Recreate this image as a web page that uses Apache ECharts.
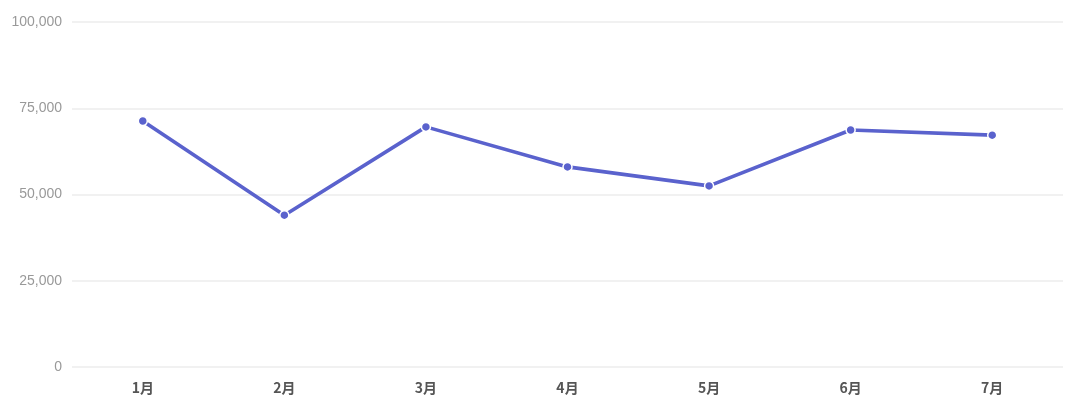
<!DOCTYPE html>
<html>
<head>
<meta charset="utf-8">
<script src="https://cdn.jsdelivr.net/npm/echarts@6/dist/echarts.min.js"></script>
<style>html,body{margin:0;padding:0;background:#fff}#c{width:1080px;height:413px}</style>
</head>
<body>
<div id="c"></div>
<script>
const categories = ['1月','2月','3月','4月','5月','6月','7月'];
const values = [71300, 44000, 69600, 58000, 52500, 68700, 67200];
const yTicks = { min: 0, max: 100000, interval: 25000 };

const chart = echarts.init(document.getElementById('c'), null, { renderer: 'canvas' });
chart.setOption({
  animation: false,
  backgroundColor: '#fff',
  grid: { left: 72, right: 17, top: 22, bottom: 46, containLabel: false },
  xAxis: {
    type: 'category',
    data: categories,
    boundaryGap: true,
    axisLine: { show: false },
    axisTick: { show: false },
    axisLabel: { color: '#555', fontSize: 14, fontWeight: 'bold', margin: 14, fontFamily: 'Noto Sans CJK SC' }
  },
  yAxis: {
    type: 'value',
    min: yTicks.min, max: yTicks.max, interval: yTicks.interval,
    axisLine: { show: false },
    axisTick: { show: false },
    axisLabel: {
      color: '#999', fontSize: 14, margin: 10, fontFamily: 'Liberation Sans',
      formatter: v => v.toLocaleString('en-US')
    },
    splitLine: { lineStyle: { color: '#ececec', width: 1.5 } }
  },
  series: [{
    type: 'line',
    data: values,
    symbol: 'circle',
    symbolSize: 9,
    lineStyle: { color: '#5a62cd', width: 3.6 },
    itemStyle: { color: '#5a62cd', borderColor: '#fff', borderWidth: 1.5 }
  }]
});
</script>
</body>
</html>
